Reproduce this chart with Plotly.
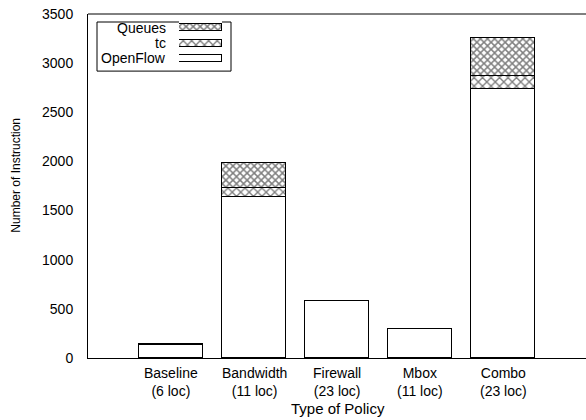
import plotly.graph_objects as go

categories = ["Baseline", "Bandwidth", "Firewall", "Mbox", "Combo"]
loc_labels = ["(6 loc)", "(11 loc)", "(23 loc)", "(11 loc)", "(23 loc)"]
openflow = [137, 1640, 580, 293, 2740]
tc = [3, 93, 3, 3, 130]
queues = [0, 254, 0, 0, 385]
series_names = ["Queues", "tc", "OpenFlow"]
y_ticks = [0, 500, 1000, 1500, 2000, 2500, 3000, 3500]

FAM = "Liberation Sans, Arial, sans-serif"
font = dict(family=FAM, size=14, color="black")
xpos = list(range(1, len(categories) + 1))

pat_tc = dict(shape="x", size=6, solidity=0.4, fgcolor="black", bgcolor="white")
pat_q = dict(shape="x", size=5, solidity=0.5, fgcolor="black", bgcolor="white")
pat_of = dict(shape="", fgcolor="black", bgcolor="white")
outline = dict(color="black", width=1)

# plot area: 88px .. 600px (right part hidden beyond the 586px window)
PW = 512.0

def px(a):
    return (a - 88) / PW

fig = go.Figure()
fig.add_trace(go.Bar(x=xpos, y=openflow, name="OpenFlow", width=0.76, showlegend=False,
                     marker=dict(color="white", line=outline, pattern=pat_of)))
fig.add_trace(go.Bar(x=xpos, y=tc, name="tc", width=0.76, showlegend=False,
                     marker=dict(color="white", line=outline, pattern=pat_tc)))
fig.add_trace(go.Bar(x=xpos, y=queues, name="Queues", width=0.76, showlegend=False,
                     marker=dict(color="white", line=outline, pattern=pat_q)))

# manual legend (labels left of the swatches, as in the original)
sw_patterns = [pat_q, pat_tc, pat_of]
label_y = [0.960, 0.917, 0.871]
for i, nm in enumerate(series_names):
    ypos = len(series_names) - i - 0.5
    fig.add_trace(go.Bar(x=[1], y=[ypos], orientation="h", xaxis="x2", yaxis="y2", width=0.46,
                         marker=dict(color="white", line=outline, pattern=sw_patterns[i]),
                         showlegend=False, hoverinfo="skip"))
    fig.add_annotation(x=px(168), y=label_y[i], xref="paper", yref="paper", text=nm, showarrow=False,
                       xanchor="right", yanchor="middle", font=font)

# category labels (two lines)
for xp, c, l in zip(xpos, categories, loc_labels):
    fig.add_annotation(x=xp, y=-0.071, xref="x", yref="paper", text=c + "<br>" + l, showarrow=False,
                       xanchor="center", yanchor="middle", align="center", font=font)

fig.add_annotation(x=px(338), y=-0.147, xref="paper", yref="paper", text="Type of Policy", showarrow=False,
                   xanchor="center", yanchor="middle", font=dict(family=FAM, size=15, color="black"))
fig.add_annotation(x=px(16), y=0.53, xref="paper", yref="paper", text="Number of Instruction", showarrow=False,
                   textangle=-90, xanchor="center", yanchor="middle", font=dict(family=FAM, size=12, color="black"))

fig.update_layout(
    barmode="stack",
    width=600, height=420,
    margin=dict(l=88, r=0, t=14, b=62),
    paper_bgcolor="white", plot_bgcolor="white",
    font=font,
    bargap=0,
    xaxis=dict(range=[0, 6 * PW / 498], tickvals=xpos, showticklabels=False, showline=True, linecolor="black",
               linewidth=1, mirror=False, ticks="", showgrid=False, zeroline=False, automargin=False,
               fixedrange=True),
    yaxis=dict(range=[0, 3500], tickvals=y_ticks, showline=True, linecolor="black", linewidth=1,
               ticks="", ticklabelstandoff=11, showgrid=False, zeroline=False, automargin=False,
               fixedrange=True),
    xaxis2=dict(domain=[px(179), px(222)], range=[0, 1], visible=False, fixedrange=True, anchor="y2"),
    yaxis2=dict(domain=[0.850, 0.984], range=[0, 3], visible=False, fixedrange=True, anchor="x2"),
    shapes=[dict(type="rect", xref="paper", yref="paper", x0=px(97), x1=px(231), y0=0.834, y1=0.9767,
                 line=dict(color="black", width=1), fillcolor="rgba(0,0,0,0)", layer="below"),
            dict(type="line", xref="paper", yref="paper", x0=0, x1=1, y0=1, y1=1,
                 line=dict(color="black", width=1))],
)

fig.write_html("out.html", config={"displayModeBar": False},
               post_script="document.body.style.margin='0';document.body.style.overflow='hidden';")
